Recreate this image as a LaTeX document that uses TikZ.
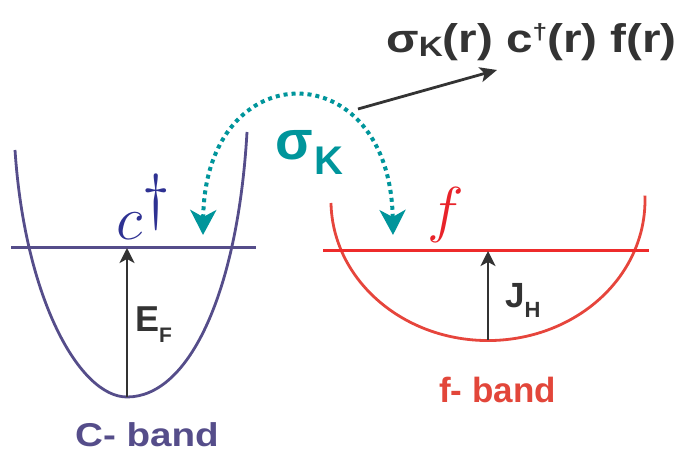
\documentclass[tikz,border=0pt]{standalone}
\usepackage{fix-cm}
\usepackage{fontspec}
\setmainfont{Liberation Sans}
\newfontfamily\widesans[FakeStretch=1.17]{Liberation Sans}
\newfontfamily\widersans[FakeStretch=1.19]{Liberation Sans}
\usetikzlibrary{arrows.meta,positioning,calc}
\definecolor{cbandcol}{HTML}{554D8A}
\definecolor{fcurve}{HTML}{E6453C}
\definecolor{fline}{HTML}{EE2B2B}
\definecolor{ftext}{HTML}{E2463A}
\definecolor{cdag}{HTML}{2E3192}
\definecolor{fital}{HTML}{E8232A}
\definecolor{hopcol}{HTML}{00959B}
\definecolor{ink}{HTML}{333333}
\newcommand{\fs}[1]{\fontsize{#1}{#1}\selectfont}
\newcommand{\lowsub}[3]{\raisebox{-#1pt}{\fs{#2}#3}}
\tikzset{
  band/.style={line width=2.8pt},
  level/.style={line width=3pt},
  gap/.style={-{Stealth[length=15pt,width=15pt,inset=4pt]}, draw=ink, line width=2.8pt},
  hop/.style={{Stealth[length=25pt,width=26pt,inset=7pt]}-{Stealth[length=25pt,width=26pt,inset=7pt]},
    draw=hopcol, line width=4pt, dash pattern=on 4pt off 4pt},
  link/.style={-{Stealth[length=17pt,width=15pt,inset=4pt]}, draw=ink, line width=2.8pt},
  lbl/.style={font=\bfseries, inner sep=0pt},
}
\begin{document}
\begin{tikzpicture}[x=10pt,y=10pt]
  \useasboundingbox (0,0) rectangle (67.9,45.4);
  % ---------- C band ----------
  \coordinate (cbot) at (12.7,5.7);
  \coordinate (cef) at (12.7,20.6);
  \draw[band, cbandcol] (1.5,30.4) .. controls (2.5,15.4) and (8.0,5.7) .. (cbot)
    .. controls (19.0,5.7) and (23.8,16.4) .. (24.7,32.2);
  \draw[level, cbandcol] (1.1,20.6) -- (25.6,20.6);
  \draw[gap] (cbot) -- (cef);
  \node[lbl, text=ink, anchor=base west] (ef) at (13.5,12.2) {\fs{36}E\lowsub{11}{21}{F}};
  \node[anchor=base, inner sep=0pt, text=cdag] (cdg) at (14.35,21.4) {\fs{62}$c^{\textstyle\dagger}$};
  \node[lbl, text=cbandcol, anchor=base] (cname) at (14.7,0.7) {\widesans\bfseries\fs{33}C- band};
  % ---------- f band ----------
  \coordinate (fbot) at (48.8,11.4);
  \coordinate (fef) at (48.8,20.3);
  \draw[band, fcurve] (33.1,25.1) arc[start angle=181, end angle=362, x radius=15.7, y radius=14.0];
  \draw[level, fline] (32.3,20.3) -- (64.9,20.3);
  \draw[gap] (fbot) -- (fef);
  \node[lbl, text=ink, anchor=base west] (jh) at (50.5,14.6) {\fs{35}J\lowsub{10}{22}{H}};
  \node[anchor=base, inner sep=0pt, text=fital] (fsym) at (44.6,22.3) {\fs{62}$f$};
  \node[lbl, text=ftext, anchor=base] (fname) at (49.75,5.1) {\fs{35}f- band};
  % ---------- hybridisation ----------
  \coordinate (hopl) at (20.3,21.9);
  \coordinate (hopr) at (39.3,21.9);
  \draw[hop] (hopl) .. controls (20.5,40.2) and (39.0,40.2) .. (hopr);
  \node[lbl, text=hopcol, anchor=base west] (sig) at (27.5,29.4) {\fs{55}σ\kern2pt\lowsub{15}{40}{K}};
  \node[lbl, text=ink, anchor=base] (term) at (53.15,40.1)
    {\widersans\bfseries\fs{40}σ\lowsub{4}{28}{K}(r) c\raisebox{13pt}{\fs{22}†}(r) f(r)};
  \coordinate (lnk) at (35.8,34.5);
  \draw[link] (lnk) -- (49.7,38.4);
\end{tikzpicture}
\end{document}
